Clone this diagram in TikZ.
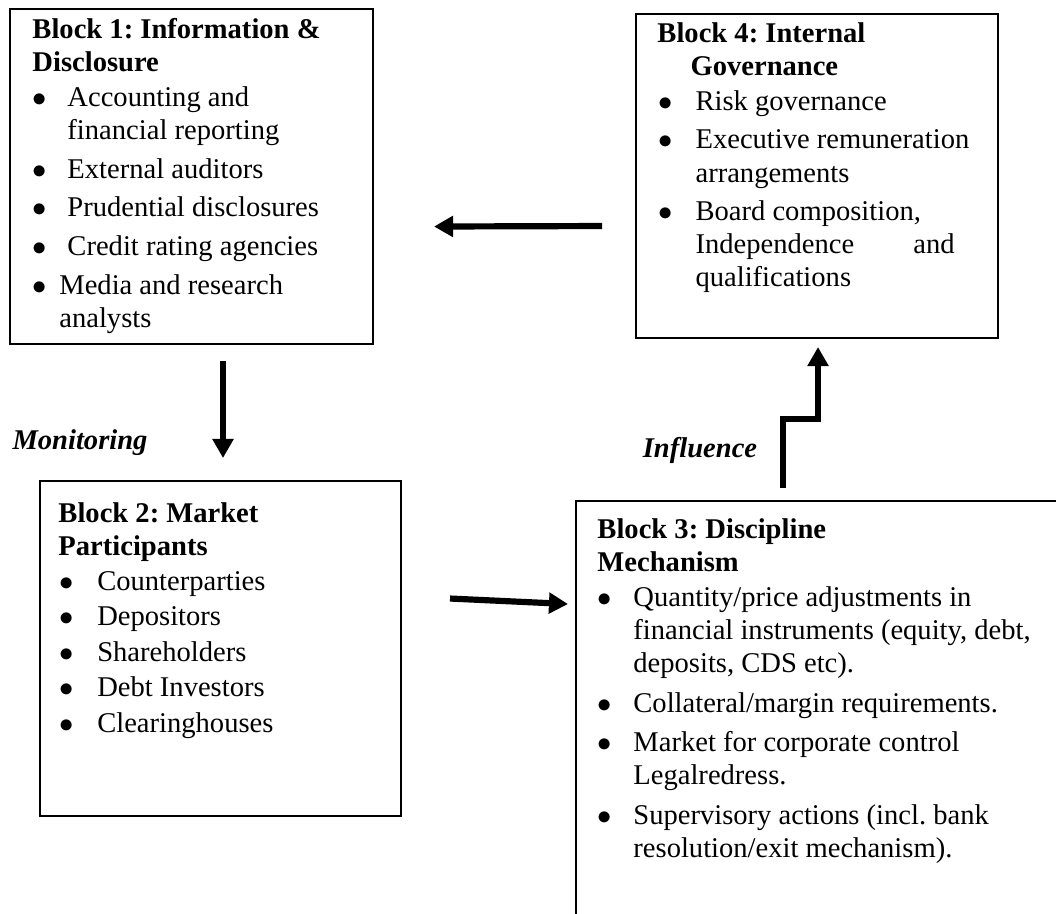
\documentclass[tikz,border=0pt]{standalone}
\usepackage{fontspec}
\setmainfont{Liberation Serif}
\usetikzlibrary{calc,positioning,arrows.meta}

\newdimen\pxu
\pxu=0.42pt
\newcommand{\vin}[2][0pt]{\hspace*{#1}\makebox[#2][l]{\smash{\fontsize{13}{13}\selectfont$\bullet$}}}
\newcommand{\sig}[1]{\hspace*{#1}}

\begin{document}
\frenchspacing
\begin{tikzpicture}[x=0.42pt,y=-0.42pt,
  bloque/.style={draw,line width=0.85pt,inner sep=0pt,anchor=north west},
  texto/.style={anchor=north west,inner sep=0pt,align=left,font=\fontsize{12}{13.9}\selectfont},
  flecha/.style={line width=2.6pt,-{Triangle[length=8pt,width=8.5pt]}},
  rotulo/.style={font=\fontsize{12}{14}\selectfont\bfseries\itshape}
  ]
  \useasboundingbox (0,0) rectangle (1056,913);

  % cajas
  \node[bloque,minimum width=363*\pxu,minimum height=335*\pxu] (b1) at (9,8) {};
  \node[bloque,minimum width=362*\pxu,minimum height=324*\pxu] (b4) at (635,13) {};
  \node[bloque,minimum width=361*\pxu,minimum height=335*\pxu] (b2) at (39,480) {};
  \node[bloque,minimum width=495*\pxu,minimum height=430*\pxu] (b3) at (575,500) {};

  % textos
  \node[texto] (t1) at (32,18) {%
    \textbf{Block 1: Information \&}\\
    \textbf{Disclosure}\\[0.8pt]
    \vin{14.7pt}Accounting and\\
    \sig{14.7pt}financial reporting\\[2.3pt]
    \vin{14.7pt}External auditors\\[2.3pt]
    \vin{14.7pt}Prudential disclosures\\[2.3pt]
    \vin{14.7pt}Credit rating agencies\\[2.3pt]
    \vin{11.3pt}Media and research\\
    \sig{11.3pt}analysts};
  \node[texto] (t4) at (657,22) {%
    \textbf{Block 4: Internal}\\
    \sig{13.9pt}\textbf{Governance}\\[0.8pt]
    \vin[0.5pt]{15.5pt}Risk governance\\[2.3pt]
    \vin[0.5pt]{15.5pt}Executive remuneration\\
    \sig{16pt}arrangements\\[2.3pt]
    \vin[0.5pt]{15.5pt}Board composition,\\
    \sig{16pt}\makebox[108.8pt][l]{Independence\hfill and}\\
    \sig{16pt}qualifications};
  \node[texto] (t2) at (58,502) {%
    \textbf{Block 2: Market}\\
    \textbf{Participants}\\[0.8pt]
    \vin[0.5pt]{15.8pt}Counterparties\\[1pt]
    \vin[0.5pt]{15.8pt}Depositors\\[1pt]
    \vin[0.5pt]{15.8pt}Shareholders\\[1pt]
    \vin[0.5pt]{15.8pt}Debt Investors\\[1pt]
    \vin[0.5pt]{15.8pt}Clearinghouses};
  \node[texto] (t3) at (597,518) {%
    \textbf{Block 3: Discipline}\\
    \textbf{Mechanism}\\[0.8pt]
    \vin{15.1pt}Quantity/price adjustments in\\
    \sig{15.1pt}financial instruments (equity, debt,\\
    \sig{15.1pt}deposits, CDS etc).\\[2.7pt]
    \vin{15.1pt}Collateral/margin requirements.\\[2.7pt]
    \vin{15.1pt}Market for corporate control\\
    \sig{15.1pt}Legalredress.\\[2.7pt]
    \vin{15.1pt}Supervisory actions (incl. bank\\
    \sig{15.1pt}resolution/exit mechanism).};

  \node[rotulo] (mon) at (80,443) {Monitoring};
  \node[rotulo] (inf) at (700,450) {Influence};

  % flechas
  \draw[flecha] ($(b4.west)+(-33,50)$) -- ($(b1.east)+(60,50)$);
  \draw[flecha] ($(b1.south west)+(214,16)$) -- ($(b2.north west)+(184,-22)$);
  \draw[flecha] ($(b2.east)+(48,-50)$) -- ($(b3.west)+(-7,-112)$);
  \draw[flecha] ($(b3.north west)+(208,-12)$) |- ($(b4.south)+(1,80)$) -- ($(b4.south)+(1,8)$);

\end{tikzpicture}
\end{document}
